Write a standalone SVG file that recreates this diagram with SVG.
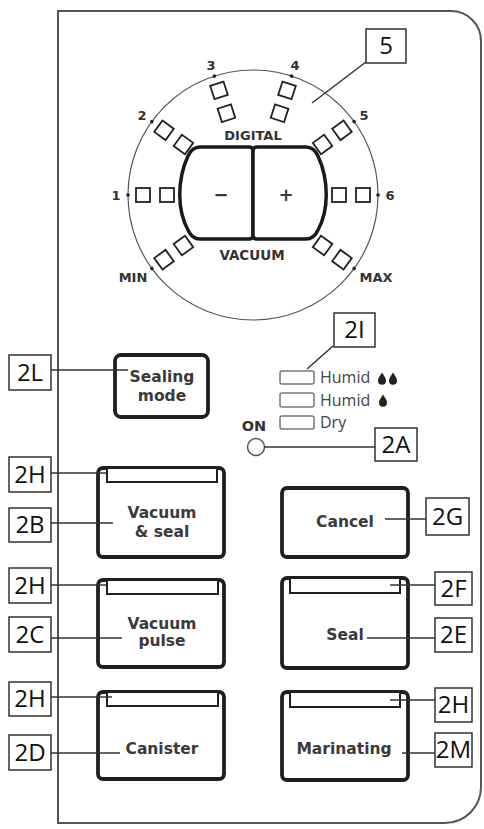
<svg xmlns="http://www.w3.org/2000/svg" width="484" height="829" viewBox="0 0 484 829">
<style>
.panel{fill:#fff;stroke:#555;stroke-width:2}
.dial{fill:none;stroke:#555;stroke-width:1.2}
.sq{fill:#fff;stroke:#222;stroke-width:1.8}
.dot{fill:#222}
.pm{fill:#fff;stroke:#1a1a1a;stroke-width:3.5;stroke-linejoin:round}
.btn{fill:#fff;stroke:#1f1f1f;stroke-width:3.8}
.win{fill:#fff;stroke:#1f1f1f;stroke-width:2}
.bt{font-family:"DejaVu Sans",sans-serif;font-weight:bold;font-size:15.5px;fill:#3a3a3a;text-anchor:middle}
.dt{font-family:"DejaVu Sans",sans-serif;font-weight:bold;font-size:13px;fill:#333;text-anchor:middle}
.ind{fill:#fff;stroke:#777;stroke-width:1.5}
.it{font-family:"Open Sans",sans-serif;font-size:16px;fill:#444}
.lb{fill:#fff;stroke:#333;stroke-width:1.5}
.lt{font-family:"Open Sans",sans-serif;font-size:24px;fill:#111;text-anchor:middle}
.ld{stroke:#333;stroke-width:1.5;fill:none}
</style>
<defs>
<path id="drop" d="M0,-6.5 C2.2,-3 4,-1 4,1.8 A4,4 0 0 1 -4,1.8 C-4,-1 -2.2,-3 0,-6.5Z" fill="#222"/>
<g id="sqL"><rect class="sq" x="136" y="188" width="14" height="14"/><rect class="sq" x="160" y="188" width="14" height="14"/><circle class="dot" cx="128" cy="195" r="1.8"/></g>
<g id="sqR"><rect class="sq" x="332" y="188" width="14" height="14"/><rect class="sq" x="356" y="188" width="14" height="14"/><circle class="dot" cx="378" cy="195" r="1.8"/></g>
</defs>

<path class="panel" d="M58,11 H451 A30,30 0 0 1 481,41 V787 A36,36 0 0 1 445,823 H58 Z"/>

<g id="dial">
<circle class="dial" cx="253" cy="195" r="125"/>
<use href="#sqL"/>
<use href="#sqL" transform="rotate(36 253 195)"/>
<use href="#sqL" transform="rotate(72 253 195)"/>
<use href="#sqL" transform="rotate(-36 253 195)"/>
<use href="#sqR"/>
<use href="#sqR" transform="rotate(-36 253 195)"/>
<use href="#sqR" transform="rotate(-72 253 195)"/>
<use href="#sqR" transform="rotate(36 253 195)"/>
<text class="dt" x="116" y="200">1</text>
<text class="dt" x="142" y="120">2</text>
<text class="dt" x="211" y="70">3</text>
<text class="dt" x="295" y="70">4</text>
<text class="dt" x="364" y="120">5</text>
<text class="dt" x="390" y="200">6</text>
<text class="dt" x="133" y="282">MIN</text>
<text class="dt" x="376" y="282">MAX</text>
<text class="dt" x="253" y="140">DIGITAL</text>
<text class="dt" x="252" y="260" style="font-size:13.5px">VACUUM</text>
</g>

<g id="btn-minus">
<path class="pm" d="M249,147 H200 Q192,147 188,156 C177,180 177,210 188,230 Q192,239 200,239 H249 Q253,239 253,235 V151 Q253,147 249,147 Z"/>
<text class="bt" x="221" y="201" style="font-size:18px">−</text>
</g>
<g id="btn-plus">
<path class="pm" d="M257,147 H306 Q314,147 318,156 C329,180 329,210 318,230 Q314,239 306,239 H257 Q253,239 253,235 V151 Q253,147 257,147 Z"/>
<text class="bt" x="286" y="201" style="font-size:18px">+</text>
</g>

<g id="btn-sealing-mode">
<rect class="btn" x="115" y="355" width="93" height="62" rx="6"/>
<text class="bt" x="162" y="382">Sealing</text>
<text class="bt" x="162" y="401">mode</text>
</g>

<g id="indicators">
<rect class="ind" x="280" y="371" width="34" height="13" rx="2"/>
<rect class="ind" x="280" y="393" width="34" height="14" rx="2"/>
<rect class="ind" x="280" y="416" width="34" height="13" rx="2"/>
<text class="it" x="320" y="383">Humid</text>
<text class="it" x="320" y="406">Humid</text>
<text class="it" x="320" y="428">Dry</text>
<use href="#drop" x="382" y="379"/>
<use href="#drop" x="393" y="379"/>
<use href="#drop" x="383" y="401"/>
</g>

<g id="on-led">
<text class="dt" x="254" y="431" style="font-size:14.5px">ON</text>
<circle cx="256" cy="447" r="8.5" fill="#fff" stroke="#555" stroke-width="1.5"/>
</g>

<g id="btn-vacuum-seal">
<rect class="btn" x="98" y="468" width="126" height="89" rx="5"/>
<rect class="win" x="107" y="468" width="110" height="14"/>
<text class="bt" x="162" y="518">Vacuum</text>
<text class="bt" x="162" y="537">&amp; seal</text>
</g>
<g id="btn-cancel">
<rect class="btn" x="282" y="488" width="126" height="69" rx="5"/>
<text class="bt" x="345" y="527">Cancel</text>
</g>
<g id="btn-vacuum-pulse">
<rect class="btn" x="98" y="580" width="126" height="87" rx="5"/>
<rect class="win" x="107" y="580" width="111" height="14"/>
<text class="bt" x="162" y="629">Vacuum</text>
<text class="bt" x="162" y="646">pulse</text>
</g>
<g id="btn-seal">
<rect class="btn" x="282" y="578" width="126" height="90" rx="5"/>
<rect class="win" x="290" y="578" width="110" height="15"/>
<text class="bt" x="345" y="640">Seal</text>
</g>
<g id="btn-canister">
<rect class="btn" x="98" y="692" width="126" height="87" rx="5"/>
<rect class="win" x="107" y="692" width="111" height="14"/>
<text class="bt" x="162" y="754">Canister</text>
</g>
<g id="btn-marinating">
<rect class="btn" x="282" y="692" width="126" height="88" rx="5"/>
<rect class="win" x="290" y="692" width="110" height="15"/>
<text class="bt" x="344" y="754">Marinating</text>
</g>

<g id="connectors">
<path class="ld" d="M366,62 L312,103"/>
<path class="ld" d="M51,370 H128"/>
<path class="ld" d="M333,346 L307,369"/>
<path class="ld" d="M264,447 H375"/>
<path class="ld" d="M51,473 H107"/>
<path class="ld" d="M51,523 H113"/>
<path class="ld" d="M385,519 H426"/>
<path class="ld" d="M51,585 H107"/>
<path class="ld" d="M51,638 H122"/>
<path class="ld" d="M390,585 H435"/>
<path class="ld" d="M367,638 H435"/>
<path class="ld" d="M51,697 H112"/>
<path class="ld" d="M51,753 H120"/>
<path class="ld" d="M390,700 H435"/>
<path class="ld" d="M402,753 H435"/>
</g>

<g id="label-5"><rect class="lb" x="366" y="29" width="40" height="34"/><text class="lt" x="386" y="54">5</text></g>
<g id="label-2L"><rect class="lb" x="9" y="355" width="42" height="35"/><text class="lt" x="30" y="381">2L</text></g>
<g id="label-2I"><rect class="lb" x="334" y="313" width="41" height="34"/><text class="lt" x="354.5" y="338">2I</text></g>
<g id="label-2A"><rect class="lb" x="375" y="428" width="42" height="33"/><text class="lt" x="396" y="453">2A</text></g>
<g id="label-2H-1"><rect class="lb" x="9" y="457" width="42" height="35"/><text class="lt" x="30" y="483">2H</text></g>
<g id="label-2B"><rect class="lb" x="9" y="508" width="42" height="34"/><text class="lt" x="30" y="533">2B</text></g>
<g id="label-2G"><rect class="lb" x="426" y="498" width="43" height="37"/><text class="lt" x="447.5" y="525">2G</text></g>
<g id="label-2H-2"><rect class="lb" x="9" y="568" width="42" height="35"/><text class="lt" x="30" y="594">2H</text></g>
<g id="label-2C"><rect class="lb" x="9" y="617" width="42" height="35"/><text class="lt" x="30" y="643">2C</text></g>
<g id="label-2F"><rect class="lb" x="435" y="572" width="37" height="33"/><text class="lt" x="453.5" y="597">2F</text></g>
<g id="label-2E"><rect class="lb" x="435" y="618" width="37" height="34"/><text class="lt" x="453.5" y="643">2E</text></g>
<g id="label-2H-3"><rect class="lb" x="9" y="682" width="42" height="34"/><text class="lt" x="30" y="707">2H</text></g>
<g id="label-2D"><rect class="lb" x="9" y="735" width="42" height="35"/><text class="lt" x="30" y="761">2D</text></g>
<g id="label-2H-4"><rect class="lb" x="435" y="688" width="37" height="34"/><text class="lt" x="453.5" y="713">2H</text></g>
<g id="label-2M"><rect class="lb" x="435" y="733" width="37" height="34"/><text class="lt" x="453.5" y="758">2M</text></g>
</svg>
